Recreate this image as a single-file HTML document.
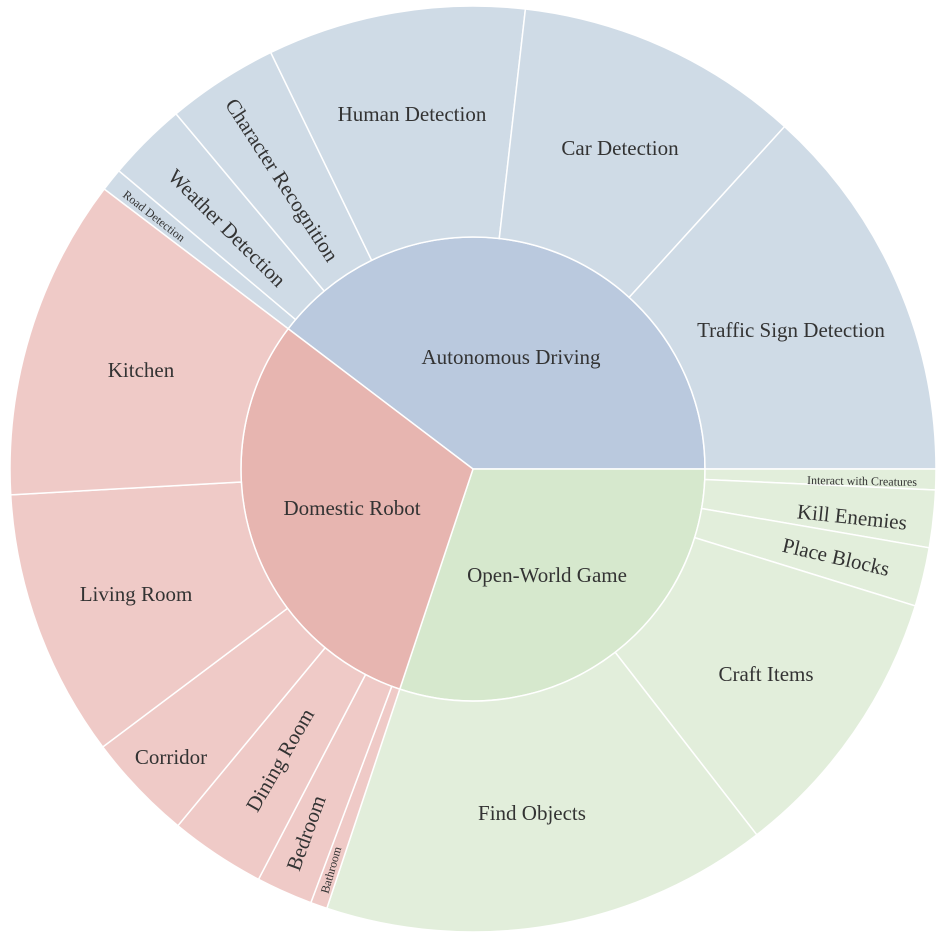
<!DOCTYPE html>
<html><head><meta charset="utf-8"><style>
html,body{margin:0;padding:0;background:#fff;}
svg{display:block;}
text{font-family:"Liberation Serif",serif;fill:#333;text-anchor:middle;dominant-baseline:central;}
</style></head><body>
<svg id="s" width="949" height="939" viewBox="0 0 949 939">
<g id="arcs"></g>
<g id="labels">
<text x="511" y="357" font-size="21">Autonomous Driving</text>
<text x="352" y="508" font-size="21">Domestic Robot</text>
<text x="547" y="575" font-size="21">Open-World Game</text>
<text x="412" y="114" font-size="21">Human Detection</text>
<text x="620" y="148" font-size="21">Car Detection</text>
<text x="791" y="330" font-size="21">Traffic Sign Detection</text>
<text x="282" y="180" font-size="21" transform="rotate(57 282 180)">Character Recognition</text>
<text x="227" y="228" font-size="21" transform="rotate(45 227 228)">Weather Detection</text>
<text x="154" y="216" font-size="12" transform="rotate(38 154 216)">Road Detection</text>
<text x="141" y="370" font-size="21">Kitchen</text>
<text x="136" y="594" font-size="21">Living Room</text>
<text x="171" y="757" font-size="21">Corridor</text>
<text x="280" y="760" font-size="21" transform="rotate(-60 280 760)">Dining Room</text>
<text x="306" y="833" font-size="21" transform="rotate(-70 306 833)">Bedroom</text>
<text x="331" y="870" font-size="12" transform="rotate(-74 331 870)">Bathroom</text>
<text x="532" y="813" font-size="21">Find Objects</text>
<text x="766" y="674" font-size="21">Craft Items</text>
<text x="836" y="557" font-size="21" transform="rotate(13 836 557)">Place Blocks</text>
<text x="852" y="517" font-size="21" transform="rotate(6 852 517)">Kill Enemies</text>
<text x="862" y="481" font-size="12" transform="rotate(1 862 481)">Interact with Creatures</text>
</g>
</svg>
<script>
(function(){
var cx=473,cy=469,r0=232,r1=463;
var g=document.getElementById('arcs');
function P(r,a){a=a*Math.PI/180;return (cx+r*Math.cos(a)).toFixed(2)+' '+(cy+r*Math.sin(a)).toFixed(2);}
function seg(ri,ro,a0,a1,fill){
 var large=(a1-a0)>180?1:0,d;
 if(ri===0){d='M'+cx+' '+cy+' L'+P(ro,a0)+' A'+ro+' '+ro+' 0 '+large+' 1 '+P(ro,a1)+' Z';}
 else d='M'+P(ri,a0)+' L'+P(ro,a0)+' A'+ro+' '+ro+' 0 '+large+' 1 '+P(ro,a1)+' L'+P(ri,a1)+' A'+ri+' '+ri+' 0 '+large+' 0 '+P(ri,a0)+' Z';
 var p=document.createElementNS('http://www.w3.org/2000/svg','path');
 p.setAttribute('d',d);p.setAttribute('fill',fill);p.setAttribute('stroke','#fff');p.setAttribute('stroke-width','1.5');
 g.appendChild(p);
}
var A='#bac9de',Ao='#cfdbe6',D='#e7b5b0',Do='#efcac7',O='#d6e8cd',Oo='#e2eedb';
seg(0,r0,-142.8,0,A);seg(0,r0,0,108.4,O);seg(0,r0,108.4,217.2,D);
var a=[-142.8,-139.9,-129.9,-115.9,-83.5,-47.7,0];
for(var i=0;i<a.length-1;i++)seg(r0,r1,a[i],a[i+1],Ao);
var o=[0,2.6,9.8,17.2,52.2,108.4];
for(i=0;i<o.length-1;i++)seg(r0,r1,o[i],o[i+1],Oo);
var d=[108.4,110.5,117.6,129.6,143.1,176.8,217.2];
for(i=0;i<d.length-1;i++)seg(r0,r1,d[i],d[i+1],Do);
})();
</script>
</body></html>
